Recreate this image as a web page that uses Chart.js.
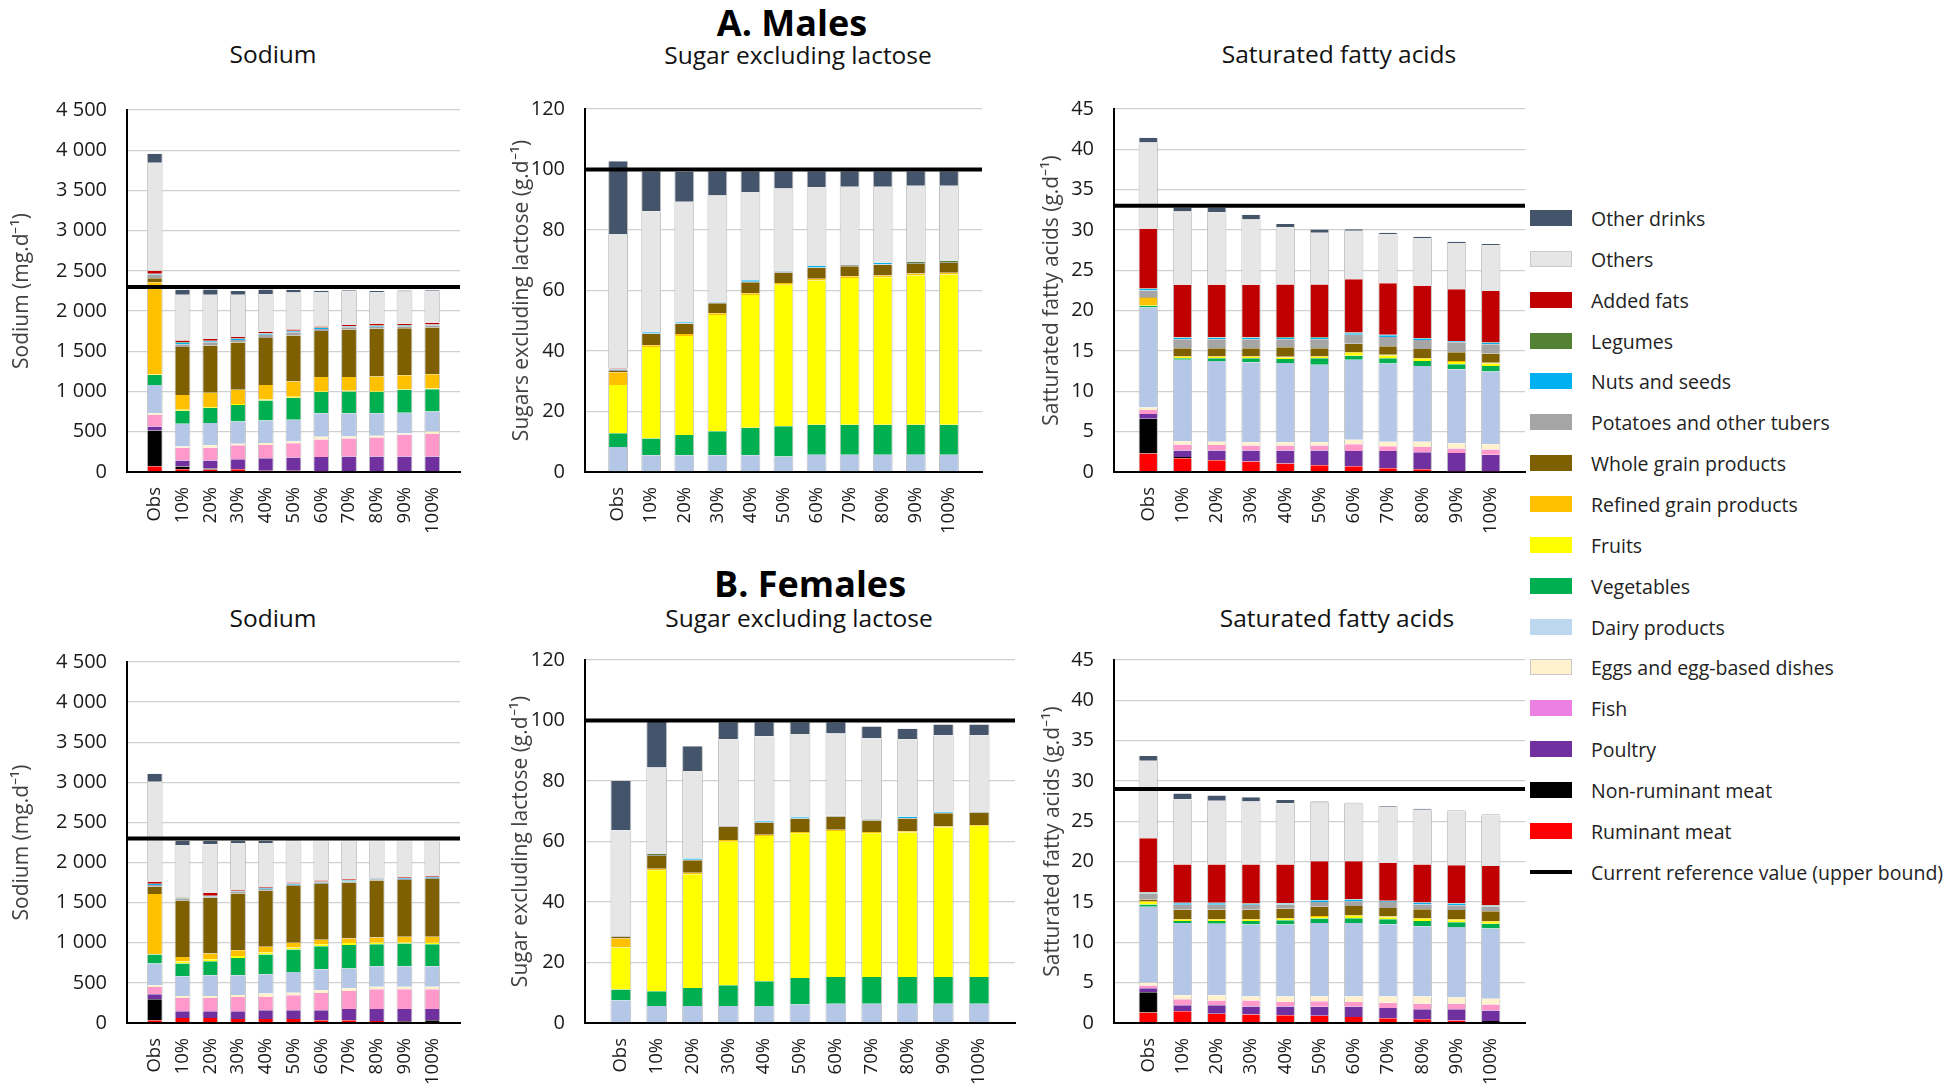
<!DOCTYPE html>
<html>
<head>
<meta charset="utf-8">
<script src="https://cdn.jsdelivr.net/npm/chart.js@4.4.0/dist/chart.umd.min.js"></script>
<style>
  body { margin: 0; background: #fff; font-family: 'Open Sans', sans-serif; }
  #page { position: relative; width: 1948px; height: 1091px; overflow: hidden; }
  .title { position: absolute; transform: translate(-50%, -50%); white-space: nowrap; font-size: 24.5px; color: #111; }
  .big { font-weight: bold; font-size: 36px; color: #000; }
  canvas { position: absolute; }
  .sw { position: absolute; left: 1530px; width: 42px; height: 16px; box-sizing: border-box; }
  .lt { position: absolute; left: 1591px; transform: translateY(-50%); font-size: 19.5px; color: #222; white-space: nowrap; }
</style>
</head>
<body>
<div id="page">
  <div class="title" style="left:273px;top:53px">Sodium</div>
  <div class="title big" style="left:792px;top:22px">A. Males</div>
  <div class="title" style="left:798px;top:54px">Sugar excluding lactose</div>
  <div class="title" style="left:1339px;top:53px">Saturated fatty acids</div>

  <div class="title" style="left:273px;top:617px">Sodium</div>
  <div class="title big" style="left:810px;top:583px">B. Females</div>
  <div class="title" style="left:799px;top:617px">Sugar excluding lactose</div>
  <div class="title" style="left:1337px;top:617px">Saturated fatty acids</div>

  <canvas id="mSodium"></canvas>
  <canvas id="mSugar"></canvas>
  <canvas id="mSfa"></canvas>
  <canvas id="fSodium"></canvas>
  <canvas id="fSugar"></canvas>
  <canvas id="fSfa"></canvas>
  <div id="legend"></div>
</div>
<script>
const categories = ['Obs', '10%', '20%', '30%', '40%', '50%', '60%', '70%', '80%', '90%', '100%'];

// stacking order, bottom to top
const foodGroups = ['Ruminant meat', 'Non-ruminant meat', 'Poultry', 'Fish', 'Eggs and egg-based dishes',
  'Dairy products', 'Vegetables', 'Fruits', 'Refined grain products', 'Whole grain products',
  'Potatoes and other tubers', 'Nuts and seeds', 'Legumes', 'Added fats', 'Others', 'Other drinks'];
const groupColors = ['#FF0000', '#000000', '#7030A0', '#FF99CC', '#FFF2CC', '#B4C7E7', '#00B050', '#FFFF00',
  '#FFC000', '#7F6000', '#A5A5A5', '#00B0F0', '#548235', '#C00000', '#E7E6E6', '#44546A'];
const legendColors = ['#FF0000', '#000000', '#7030A0', '#EC80E2', '#FFF2CC', '#BDD7EE', '#00B050', '#FFFF00',
  '#FFC000', '#7F6000', '#A5A5A5', '#00B0F0', '#548235', '#C00000', '#E7E6E6', '#44546A'];
const refLabel = 'Current reference value (upper bound)';

const maleRef = [2300, 100, 33];
const femaleRef = [2300, 100, 29];

// one row per food group, one value per category
const maleSodium = [
  [73, 35, 30, 34, 17, 17, 5, 0, 0, 0, 0],
  [442, 34, 12, 0, 0, 0, 0, 0, 0, 0, 0],
  [52, 73, 100, 125, 155, 163, 180, 193, 193, 193, 193],
  [142, 159, 159, 172, 163, 176, 219, 223, 236, 270, 279],
  [21, 17, 30, 21, 26, 26, 34, 26, 21, 17, 30],
  [352, 283, 279, 275, 279, 266, 292, 288, 279, 258, 249],
  [125, 159, 185, 206, 249, 275, 266, 270, 270, 283, 279],
  [5, 13, 9, 13, 13, 13, 9, 9, 9, 9, 9],
  [1146, 185, 180, 176, 180, 190, 176, 172, 180, 172, 176],
  [52, 597, 588, 588, 584, 571, 571, 588, 593, 584, 580],
  [43, 34, 40, 30, 40, 40, 26, 30, 26, 26, 26],
  [5, 17, 12, 13, 13, 13, 13, 9, 9, 9, 9],
  [5, 9, 9, 5, 5, 5, 5, 5, 5, 5, 5],
  [40, 21, 21, 21, 20, 17, 13, 13, 21, 13, 21],
  [1340, 567, 550, 524, 468, 460, 430, 420, 395, 405, 390],
  [112, 64, 64, 47, 56, 34, 13, 13, 13, 13, 13]
];
const maleSugar = [
  [0, 0, 0, 0, 0, 0, 0, 0, 0, 0, 0],
  [0, 0, 0, 0, 0, 0, 0, 0, 0, 0, 0],
  [0, 0, 0, 0, 0, 0, 0, 0, 0, 0, 0],
  [0, 0, 0, 0, 0, 0, 0, 0, 0, 0, 0],
  [0, 0, 0, 0, 0, 0, 0, 0, 0, 0, 0],
  [8.3, 5.5, 5.5, 5.5, 5.5, 5.1, 5.7, 5.7, 5.7, 5.7, 5.7],
  [4.5, 5.6, 6.7, 8.0, 9.1, 10.0, 9.9, 9.9, 9.9, 9.9, 9.9],
  [16.0, 30.2, 32.8, 38.4, 43.9, 46.8, 47.7, 48.5, 48.8, 49.4, 49.7],
  [4.2, 0.6, 0.6, 0.6, 0.6, 0.6, 0.6, 0.6, 0.6, 0.6, 0.6],
  [0.4, 3.7, 3.4, 3.3, 3.6, 3.4, 3.5, 3.3, 3.5, 3.2, 3.2],
  [0.4, 0.2, 0.2, 0.2, 0.2, 0.5, 0.2, 0.4, 0.2, 0.3, 0.3],
  [0.2, 0.4, 0.3, 0.3, 0.5, 0.1, 0.5, 0, 0.5, 0, 0],
  [0, 0, 0, 0, 0, 0, 0, 0, 0, 0.4, 0.4],
  [0.2, 0, 0, 0, 0, 0, 0, 0, 0, 0, 0],
  [44.5, 40.0, 39.8, 35.1, 29.2, 27.2, 26.0, 25.9, 25.1, 25.1, 24.8],
  [24.0, 13.2, 10.0, 8.0, 6.8, 5.7, 5.3, 5.1, 5.1, 4.8, 4.8]
];
const maleSfa = [
  [2.3, 1.7, 1.45, 1.3, 1.05, 0.85, 0.7, 0.45, 0.35, 0.05, 0.05],
  [4.3, 0.15, 0.05, 0, 0, 0, 0, 0, 0, 0, 0],
  [0.6, 0.8, 1.15, 1.35, 1.6, 1.8, 1.9, 2.15, 2.1, 2.3, 2.1],
  [0.5, 0.75, 0.7, 0.65, 0.65, 0.65, 0.85, 0.6, 0.65, 0.55, 0.65],
  [0.3, 0.4, 0.4, 0.4, 0.4, 0.4, 0.55, 0.55, 0.65, 0.65, 0.65],
  [12.4, 10.1, 10.0, 9.9, 9.8, 9.6, 9.9, 9.7, 9.4, 9.2, 9.0],
  [0.2, 0.2, 0.35, 0.5, 0.5, 0.8, 0.5, 0.65, 0.6, 0.6, 0.7],
  [0.1, 0.15, 0.15, 0.15, 0.2, 0.15, 0.35, 0.35, 0.25, 0.3, 0.3],
  [0.9, 0.1, 0.1, 0.1, 0.1, 0.1, 0.1, 0.1, 0.1, 0.1, 0.1],
  [0.1, 1.0, 1.0, 1.0, 1.15, 1.0, 1.05, 1.05, 1.15, 1.1, 1.1],
  [0.8, 1.1, 1.1, 1.1, 1.0, 1.1, 1.1, 1.15, 1.1, 1.25, 1.2],
  [0.2, 0.2, 0.2, 0.2, 0.2, 0.2, 0.2, 0.2, 0.2, 0.1, 0.15],
  [0.05, 0.05, 0.05, 0.05, 0.1, 0.1, 0.1, 0.05, 0.05, 0.05, 0.05],
  [7.4, 6.5, 6.5, 6.5, 6.5, 6.5, 6.6, 6.4, 6.5, 6.4, 6.4],
  [10.7, 9.1, 9.0, 8.1, 7.1, 6.4, 6.0, 6.1, 5.9, 5.75, 5.65],
  [0.6, 0.5, 0.6, 0.6, 0.4, 0.4, 0.2, 0.15, 0.15, 0.15, 0.15]
];
const femaleSodium = [
  [33, 62, 62, 50, 50, 50, 33, 33, 25, 17, 12],
  [262, 0, 0, 0, 0, 0, 0, 0, 0, 8, 21],
  [62, 83, 83, 96, 108, 108, 125, 142, 150, 150, 142],
  [92, 167, 167, 179, 167, 187, 216, 225, 245, 245, 245],
  [21, 25, 25, 25, 42, 33, 33, 33, 33, 33, 33],
  [271, 246, 258, 245, 241, 258, 262, 246, 254, 254, 254],
  [112, 158, 175, 216, 246, 279, 287, 292, 275, 283, 275],
  [4, 25, 25, 25, 25, 25, 25, 25, 21, 17, 17],
  [750, 58, 71, 71, 71, 60, 58, 58, 62, 67, 75],
  [92, 700, 695, 708, 700, 707, 695, 694, 710, 708, 720],
  [21, 25, 17, 25, 25, 17, 17, 17, 17, 17, 17],
  [12, 4, 4, 4, 8, 12, 8, 12, 8, 8, 8],
  [4, 12, 4, 4, 4, 4, 4, 4, 4, 4, 4],
  [21, 4, 33, 12, 8, 12, 12, 12, 8, 12, 12],
  [1249, 650, 608, 585, 550, 515, 490, 472, 453, 442, 430],
  [100, 54, 46, 30, 25, 8, 8, 8, 8, 8, 8]
];
const femaleSugar = [
  [0, 0, 0, 0, 0, 0, 0, 0, 0, 0, 0],
  [0, 0, 0, 0, 0, 0, 0, 0, 0, 0, 0],
  [0, 0, 0, 0, 0, 0, 0, 0, 0, 0, 0],
  [0, 0, 0, 0, 0, 0, 0, 0, 0, 0, 0],
  [0, 0, 0, 0, 0, 0, 0, 0, 0, 0, 0],
  [7.5, 5.6, 5.6, 5.6, 5.6, 6.1, 6.4, 6.4, 6.4, 6.4, 6.4],
  [3.6, 4.9, 6.0, 6.9, 8.2, 8.8, 8.8, 8.8, 8.8, 8.8, 8.8],
  [13.9, 40.0, 37.6, 47.6, 48.0, 47.8, 48.3, 47.5, 47.8, 49.5, 49.9],
  [2.9, 0.5, 0.5, 0.4, 0.4, 0.4, 0.4, 0.4, 0.4, 0.3, 0.3],
  [0.5, 4.2, 4.1, 4.4, 4.0, 4.3, 4.3, 3.8, 4.2, 4.3, 4.1],
  [0.3, 0.3, 0.2, 0.2, 0.3, 0.2, 0.3, 0.4, 0.2, 0.2, 0.4],
  [0, 0, 0.4, 0, 0.4, 0.4, 0, 0, 0.4, 0.3, 0],
  [0, 0.4, 0, 0, 0, 0, 0, 0.2, 0, 0, 0],
  [0, 0, 0, 0, 0, 0, 0, 0, 0, 0, 0],
  [35.0, 28.6, 28.9, 28.7, 27.9, 27.5, 27.2, 26.6, 25.6, 25.3, 25.2],
  [16.3, 15.1, 8.2, 5.6, 4.6, 3.9, 3.7, 3.9, 3.5, 3.6, 3.6]
];
const femaleSfa = [
  [1.3, 1.45, 1.15, 1.05, 0.95, 0.9, 0.75, 0.6, 0.45, 0.3, 0.1],
  [2.5, 0, 0, 0, 0, 0, 0, 0, 0, 0, 0.15],
  [0.5, 0.75, 1.05, 1.0, 1.1, 1.1, 1.25, 1.25, 1.25, 1.4, 1.3],
  [0.35, 0.75, 0.6, 0.75, 0.55, 0.7, 0.6, 0.65, 0.7, 0.7, 0.75],
  [0.35, 0.5, 0.65, 0.5, 0.7, 0.6, 0.7, 0.8, 0.9, 0.75, 0.7],
  [9.4, 8.95, 8.85, 8.9, 8.9, 9.1, 9.1, 8.95, 8.7, 8.75, 8.7],
  [0.3, 0.25, 0.35, 0.45, 0.55, 0.55, 0.6, 0.6, 0.65, 0.6, 0.6],
  [0.3, 0.15, 0.15, 0.15, 0.15, 0.2, 0.25, 0.25, 0.25, 0.25, 0.25],
  [0.1, 0.1, 0.1, 0.1, 0.1, 0.1, 0.1, 0.1, 0.1, 0.1, 0.1],
  [0.2, 1.15, 1.15, 1.15, 1.15, 1.15, 1.15, 1.05, 1.1, 1.15, 1.2],
  [0.75, 0.6, 0.6, 0.6, 0.55, 0.6, 0.6, 0.75, 0.6, 0.6, 0.6],
  [0.1, 0.2, 0.2, 0.1, 0.1, 0.2, 0.2, 0.1, 0.2, 0.2, 0.1],
  [0.05, 0.05, 0.05, 0.05, 0.05, 0.05, 0.05, 0.05, 0.05, 0.05, 0.05],
  [6.7, 4.75, 4.75, 4.85, 4.8, 4.8, 4.7, 4.7, 4.7, 4.7, 4.85],
  [9.6, 8.1, 7.9, 7.8, 7.6, 7.3, 7.15, 6.95, 6.8, 6.7, 6.3],
  [0.6, 0.7, 0.65, 0.55, 0.4, 0.1, 0.1, 0.1, 0.1, 0.1, 0.1]
];

Chart.defaults.font.family = "'Open Sans', sans-serif";

const spaced = v => v >= 1000 ? Math.floor(v / 1000) + ' ' + String(v % 1000).padStart(3, '0') : String(v);
const yTitleFont = 21;

function drawPanel(id, frame, rows, refValue, yMax, yStep, yTitle, barPct) {
  const el = document.getElementById(id);
  const left = Math.round(frame.titleX - (yTitleFont * 1.2 / 2 + 4));
  const top = frame.top - 20;
  const width = frame.right - left + 4;
  const height = frame.bottom - frame.top + 20 + 66;
  el.style.left = left + 'px';
  el.style.top = top + 'px';
  el.width = width;
  el.height = height;

  const labels = ['', ...categories, ''];
  const datasets = rows.map((vals, i) => ({
    label: foodGroups[i],
    data: [null, ...vals, null],
    backgroundColor: groupColors[i],
    borderColor: '#BFBFBF',
    borderWidth: { left: 1, right: 1, top: 0, bottom: 0 },
    borderSkipped: false,
    stack: 'food',
    order: 1
  }));
  datasets.push({
    type: 'line',
    label: refLabel,
    data: labels.map(() => refValue),
    borderColor: '#000',
    borderWidth: 4,
    pointRadius: 0,
    stack: 'ref',
    order: 0
  });

  new Chart(el, {
    type: 'bar',
    data: { labels, datasets },
    options: {
      responsive: false,
      animation: false,
      layout: { padding: { top: 20, right: 4, left: 0, bottom: 0 } },
      plugins: { legend: { display: false }, tooltip: { enabled: false } },
      datasets: { bar: { categoryPercentage: 1, barPercentage: barPct } },
      scales: {
        x: {
          stacked: true,
          offset: false,
          grid: { display: false, drawTicks: false },
          border: { color: '#000', width: 2 },
          ticks: { autoSkip: false, minRotation: 90, maxRotation: 90, padding: 15, color: '#1a1a1a', font: { size: 18.5 } },
          afterFit: s => { s.height = 66; s.paddingLeft = 0; s.paddingRight = 0; }
        },
        y: {
          stacked: true,
          min: 0,
          max: yMax,
          grid: { color: '#D0D0D0', lineWidth: 1.3, drawTicks: false },
          border: { color: '#000', width: 2 },
          ticks: { stepSize: yStep, padding: 20, color: '#1a1a1a', font: { size: 20 }, callback: spaced },
          title: { display: true, text: yTitle, color: '#404040', font: { size: yTitleFont }, padding: { top: 4, bottom: 4 } },
          afterFit: s => { s.width = frame.left - left; s.paddingTop = 0; s.paddingBottom = 0; }
        }
      }
    }
  });
}

drawPanel('mSodium', { left: 127, right: 460, top: 110, bottom: 472, titleX: 22 }, maleSodium, maleRef[0], 4500, 500, 'Sodium (mg.d⁻¹)', 0.57);
drawPanel('mSugar', { left: 585, right: 982, top: 109, bottom: 472, titleX: 522 }, maleSugar, maleRef[1], 120, 20, 'Sugars excluding lactose (g.d⁻¹)', 0.6);
drawPanel('mSfa', { left: 1114, right: 1525, top: 109, bottom: 472, titleX: 1052 }, maleSfa, maleRef[2], 45, 5, 'Satturated fatty acids (g.d⁻¹)', 0.565);
drawPanel('fSodium', { left: 127, right: 460, top: 662, bottom: 1023, titleX: 22 }, femaleSodium, femaleRef[0], 4500, 500, 'Sodium (mg.d⁻¹)', 0.57);
drawPanel('fSugar', { left: 585, right: 1015, top: 660, bottom: 1023, titleX: 521 }, femaleSugar, femaleRef[1], 120, 20, 'Sugar excluding lactose (g.d⁻¹)', 0.58);
drawPanel('fSfa', { left: 1114, right: 1525, top: 660, bottom: 1023, titleX: 1053 }, femaleSfa, femaleRef[2], 45, 5, 'Satturated fatty acids (g.d⁻¹)', 0.565);

// legend, top entry first
const legend = document.getElementById('legend');
const entries = foodGroups.map((name, i) => ({ name, color: legendColors[i] })).reverse();
entries.push({ name: refLabel, line: true });
entries.forEach((e, i) => {
  const y = 218 + i * 40.85;
  const sw = document.createElement('div');
  sw.className = 'sw';
  if (e.line) {
    sw.style.top = (y - 2) + 'px';
    sw.style.height = '4px';
    sw.style.background = '#000';
  } else {
    sw.style.top = (y - 8) + 'px';
    sw.style.background = e.color;
    if (e.name === 'Others' || e.name.startsWith('Eggs')) sw.style.border = '1px solid #C9C9C9';
  }
  legend.appendChild(sw);
  const t = document.createElement('div');
  t.className = 'lt';
  t.style.top = y + 'px';
  t.textContent = e.name;
  legend.appendChild(t);
});
</script>
</body>
</html>
